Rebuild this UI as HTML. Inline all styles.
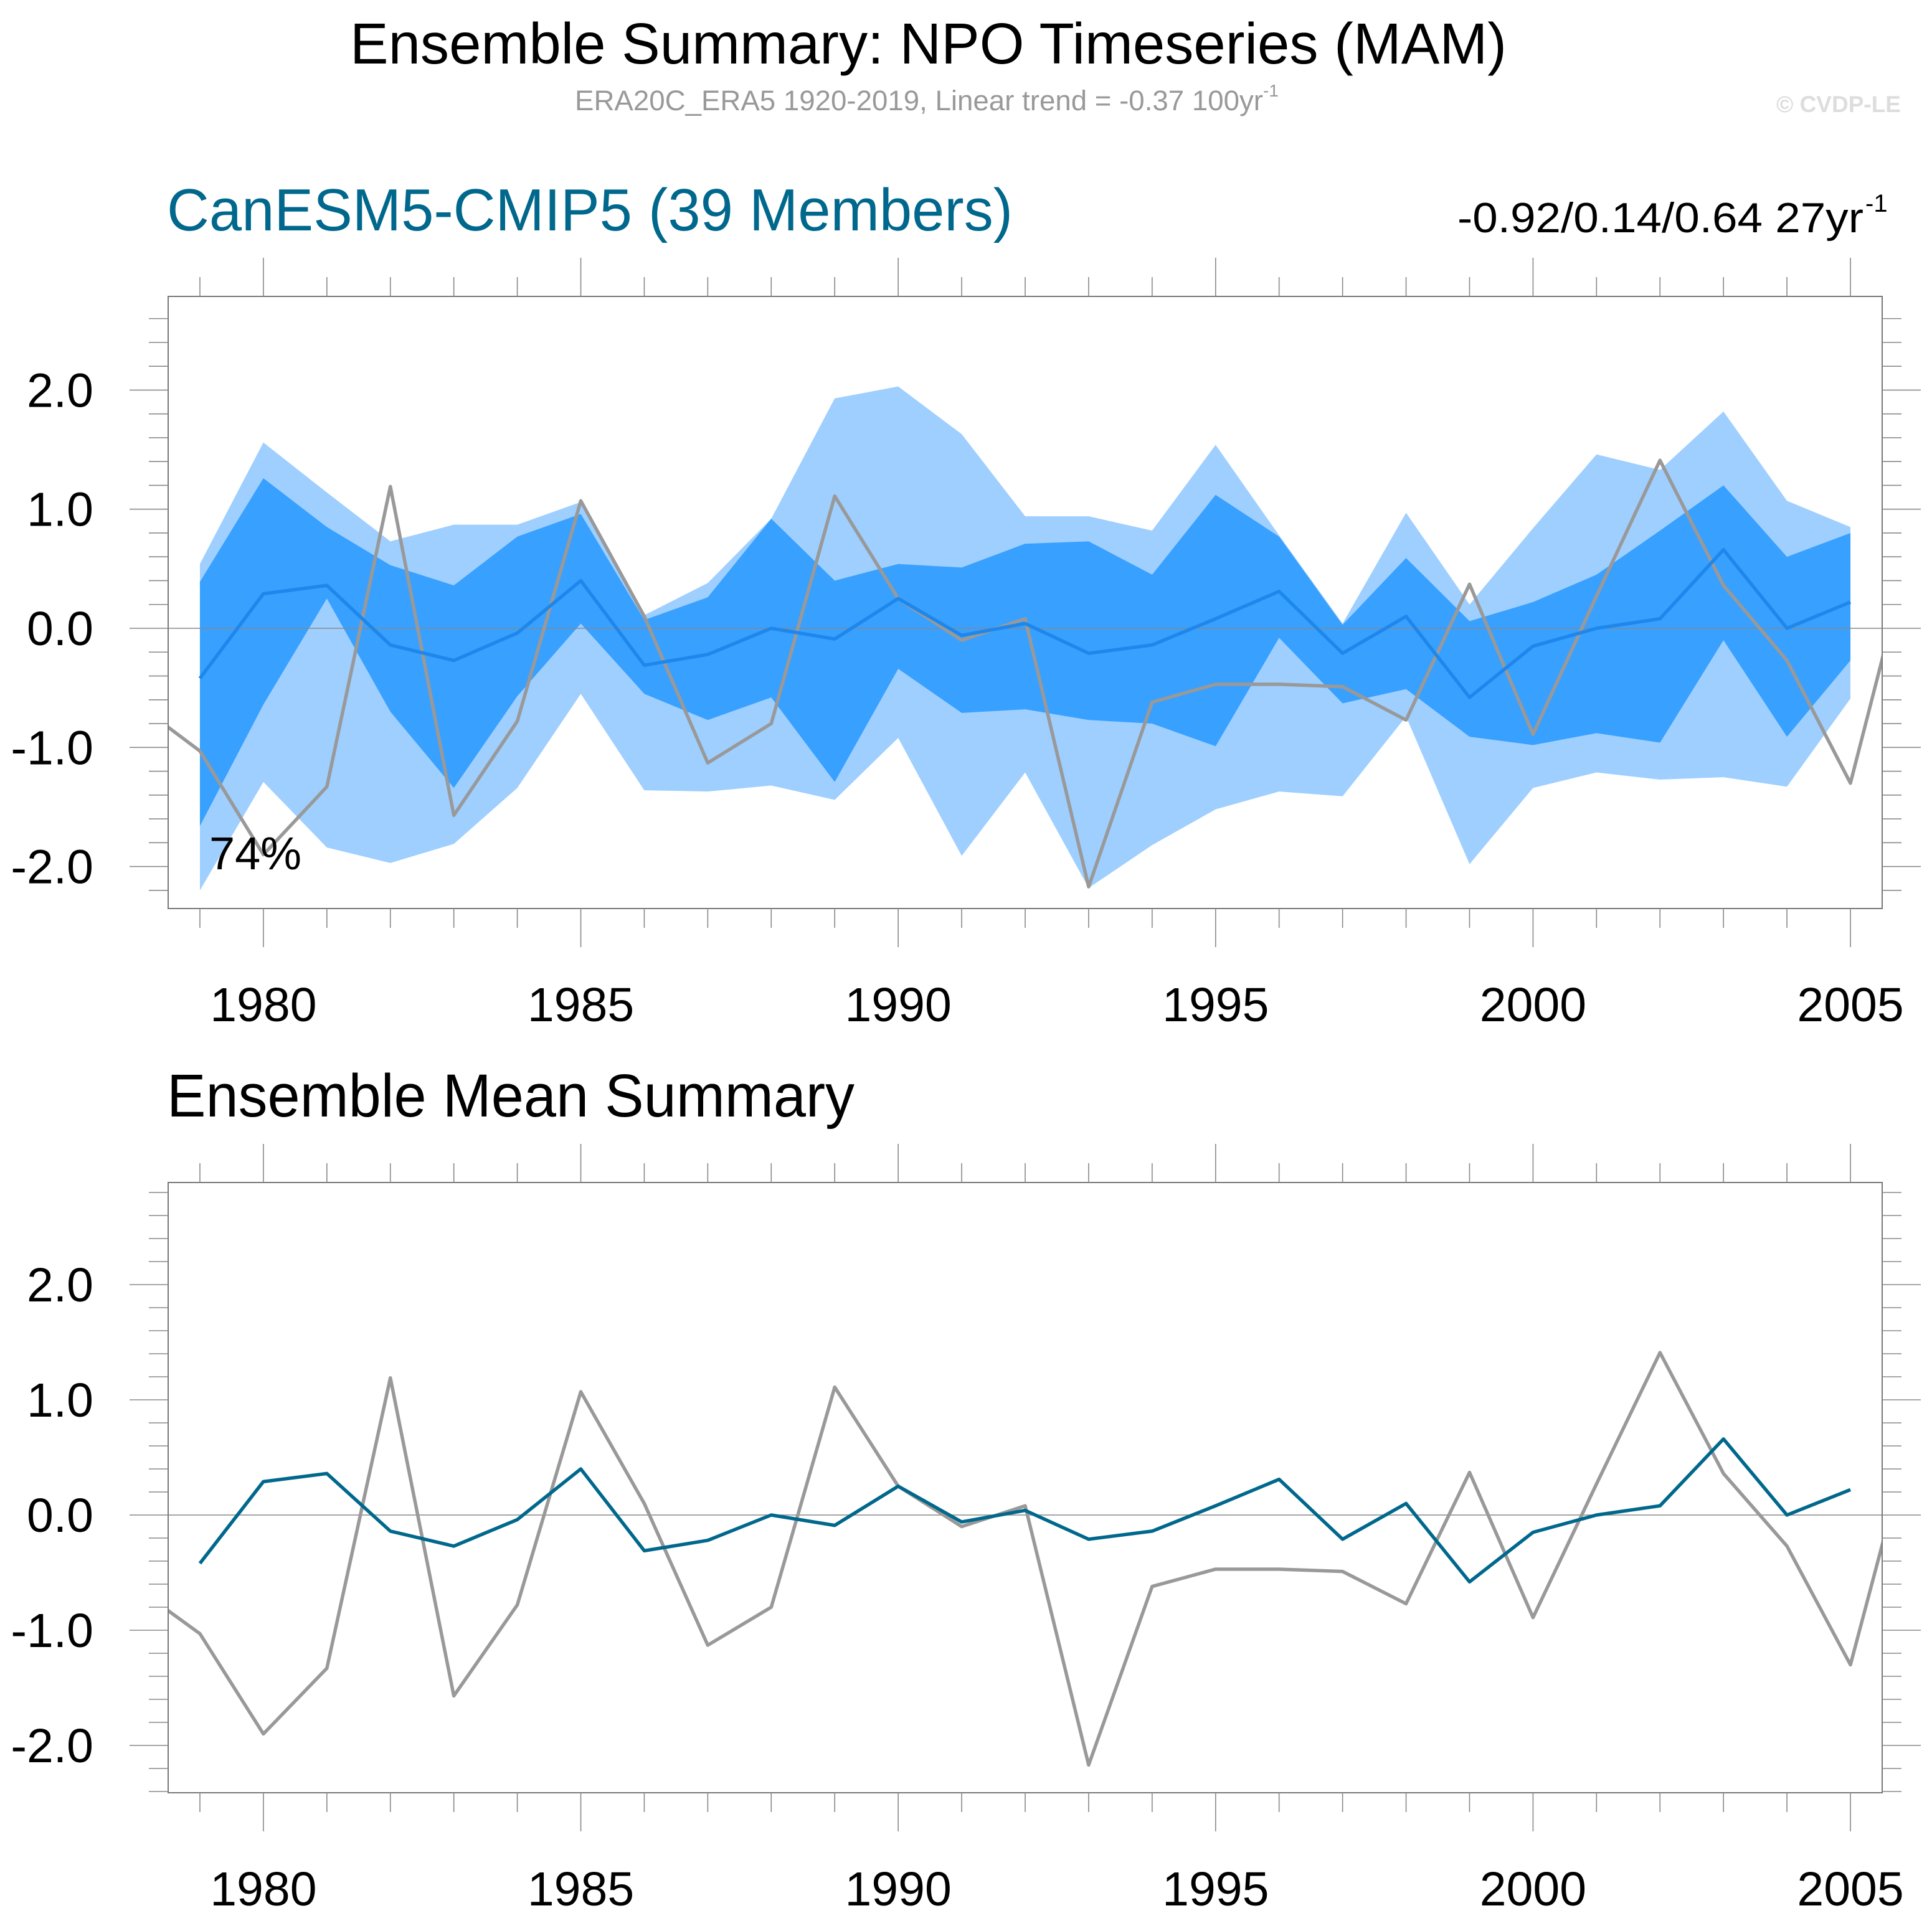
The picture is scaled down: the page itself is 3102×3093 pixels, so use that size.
<!DOCTYPE html>
<html><head><meta charset="utf-8"><style>
html,body{margin:0;padding:0;background:#fff;}
svg{display:block;font-family:"Liberation Sans",Arial,sans-serif;}
</style></head><body>
<svg id="chart" width="3102" height="3093" viewBox="0 0 3102 3093" xmlns="http://www.w3.org/2000/svg">
<text x="562" y="102" font-size="93" textLength="1857" lengthAdjust="spacingAndGlyphs" fill="#000">Ensemble Summary: NPO Timeseries (MAM)</text>
<text x="923" y="177" font-size="45" fill="#999"><tspan textLength="1105" lengthAdjust="spacingAndGlyphs">ERA20C_ERA5 1920-2019, Linear trend = -0.37 100yr</tspan><tspan font-size="28" dy="-22">-1</tspan></text>
<text x="3052" y="180" font-size="37" font-weight="bold" text-anchor="end" fill="#dddddd">© CVDP-LE</text>
<text x="268" y="370" font-size="96" textLength="1358" lengthAdjust="spacingAndGlyphs" fill="#00688c">CanESM5-CMIP5 (39 Members)</text>
<text x="2340" y="373" font-size="68" textLength="652" lengthAdjust="spacingAndGlyphs" fill="#000">-0.92/0.14/0.64 27yr</text>
<text x="2995" y="340" font-size="40" fill="#000">-1</text>
<text x="268" y="1793" font-size="97" textLength="1104" lengthAdjust="spacingAndGlyphs" fill="#000">Ensemble Mean Summary</text>
<g id="top"></g>
<g id="bot"></g>
</svg>
<script>
const years = [1979,1980,1981,1982,1983,1984,1985,1986,1987,1988,1989,1990,1991,1992,1993,1994,1995,1996,1997,1998,1999,2000,2001,2002,2003,2004,2005];
const ensMean = [-0.42,0.29,0.36,-0.14,-0.27,-0.04,0.40,-0.31,-0.22,0.0,-0.09,0.25,-0.06,0.04,-0.21,-0.14,0.08,0.31,-0.21,0.10,-0.58,-0.15,0.0,0.08,0.66,0.0,0.22];
const outerMax = [0.54,1.56,1.14,0.73,0.87,0.87,1.06,0.11,0.38,0.92,1.93,2.03,1.63,0.94,0.94,0.82,1.54,0.78,0.04,0.97,0.20,0.84,1.46,1.33,1.82,1.07,0.85];
const innerMax = [0.39,1.26,0.85,0.53,0.36,0.77,0.96,0.07,0.26,0.92,0.40,0.54,0.51,0.71,0.73,0.45,1.12,0.77,0.03,0.59,0.06,0.22,0.45,0.82,1.20,0.60,0.80];
const innerMin = [-1.66,-0.64,0.25,-0.70,-1.34,-0.57,0.04,-0.55,-0.77,-0.58,-1.29,-0.34,-0.71,-0.68,-0.77,-0.80,-0.99,-0.08,-0.63,-0.51,-0.91,-0.98,-0.88,-0.96,-0.10,-0.91,-0.27];
const outerMin = [-2.20,-1.29,-1.84,-1.97,-1.81,-1.34,-0.55,-1.36,-1.37,-1.32,-1.44,-0.92,-1.91,-1.21,-2.18,-1.82,-1.52,-1.37,-1.41,-0.74,-1.98,-1.34,-1.21,-1.27,-1.25,-1.33,-0.59];
const obsYears = [1978,1979,1980,1981,1982,1983,1984,1985,1986,1987,1988,1989,1990,1991,1992,1993,1994,1995,1996,1997,1998,1999,2000,2001,2002,2003,2004,2005,2006];
const obsValues = [-0.63,-1.03,-1.90,-1.33,1.19,-1.57,-0.78,1.07,0.10,-1.13,-0.80,1.11,0.25,-0.10,0.08,-2.17,-0.62,-0.47,-0.47,-0.49,-0.77,0.37,-0.89,0.27,1.41,0.36,-0.27,-1.30,0.78];
const yTickLabels = ["2.0","1.0","0.0","-1.0","-2.0"];
const yTickValues = [2,1,0,-1,-2];
const xTickLabels = ["1980","1985","1990","1995","2000","2005"];
const xTickValues = [1980,1985,1990,1995,2000,2005];
const percentLabel = "74%";

const NS="http://www.w3.org/2000/svg";
function mk(parent,tag,attrs){const e=document.createElementNS(NS,tag);for(const k in attrs)e.setAttribute(k,attrs[k]);parent.appendChild(e);return e;}

function panel(g, P, isTop){
  const X=v=>P.left+(v-1978.5)*(P.right-P.left)/27;
  const Y=v=>P.zero-v*P.unit;
  const clipId='clip'+(isTop?'T':'B');
  const defs=mk(g,'defs',{});
  const cp=mk(defs,'clipPath',{id:clipId});
  mk(cp,'rect',{x:P.left,y:P.top,width:P.right-P.left,height:P.bottom-P.top});
  const plot=mk(g,'g',{'clip-path':'url(#'+clipId+')'});
  
  
  if(isTop){
    const band=(hi,lo,col,name)=>{
      let pts=years.map((y,i)=>X(y)+','+Y(hi[i]));
      pts=pts.concat(years.slice().reverse().map((y,j)=>{const i=years.length-1-j;return X(y)+','+Y(lo[i]);}));
      const p=mk(plot,'polygon',{points:pts.join(' '),fill:col});
      
      
    };
    band(outerMax,outerMin,'#9ecfff','outer-spread-band');
    band(innerMax,innerMin,'#38a0ff','inner-spread-band');
  }
  const zl=mk(plot,'line',{x1:P.left,x2:P.right,y1:Y(0),y2:Y(0),stroke:'#888','stroke-width':1.5});
  
  
  const obs=mk(plot,'polyline',{points:obsYears.map((y,i)=>X(y)+','+Y(obsValues[i])).join(' '),fill:'none',stroke:'#999','stroke-width':5.5,'stroke-linejoin':'round'});
  
  
  const ml=mk(plot,'polyline',{points:years.map((y,i)=>X(y)+','+Y(ensMean[i])).join(' '),fill:'none',stroke:isTop?'#1e87ec':'#00688c','stroke-width':5.5,'stroke-linejoin':'round'});
  
  
  const fr=mk(g,'rect',{x:P.left,y:P.top,width:P.right-P.left,height:P.bottom-P.top,fill:'none',stroke:'#777','stroke-width':2});
  
  
  for(let yr=1979;yr<=2005;yr++){
    const major=yr%5===0;const x=X(yr);
    mk(g,'line',{x1:x,x2:x,y1:P.top,y2:P.top-(major?62:31),stroke:'#888','stroke-width':1.6});
    mk(g,'line',{x1:x,x2:x,y1:P.bottom,y2:P.bottom+(major?62:31),stroke:'#888','stroke-width':1.6});
  }
  for(let k=-30;k<=30;k++){
    const v=k/5;const y=Y(v);
    if(y<P.top+2||y>P.bottom-2)continue;
    const major=k%5===0;
    mk(g,'line',{x1:P.left,x2:P.left-(major?62:31),y1:y,y2:y,stroke:'#888','stroke-width':1.6});
    mk(g,'line',{x1:P.right,x2:P.right+(major?62:31),y1:y,y2:y,stroke:'#888','stroke-width':1.6});
  }
  yTickValues.forEach((v,i)=>{
    const t=mk(g,'text',{x:150,y:Y(v)+27,'font-size':77,'text-anchor':'end',fill:'#000'});
    t.textContent=yTickLabels[i];
    
    
  });
  xTickValues.forEach((v,i)=>{
    const t=mk(g,'text',{x:X(v),y:P.xlab,'font-size':77,'text-anchor':'middle',fill:'#000'});
    t.textContent=xTickLabels[i];
    
    
  });
  if(isTop){
    const t=mk(g,'text',{x:336,y:1396,'font-size':74,fill:'#000'});
    t.textContent=percentLabel;
    
    
  }
}
panel(document.getElementById('top'),{left:270,right:3022,top:476,bottom:1459,zero:1009,unit:191.3,xlab:1640},true);
panel(document.getElementById('bot'),{left:270,right:3022,top:1899,bottom:2879,zero:2433,unit:185,xlab:3060},false);
</script>
</body></html>
